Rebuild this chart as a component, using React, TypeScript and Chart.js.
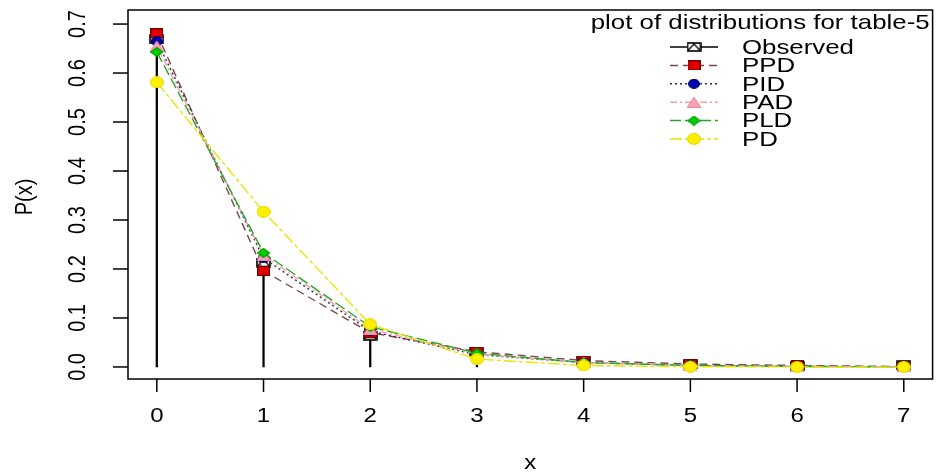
import { useEffect, useRef } from "react";
import { Chart, registerables } from "chart.js";

Chart.register(...registerables);

// ---------- data ----------
const xValues = [0, 1, 2, 3, 4, 5, 6, 7];
const observed = [0.669, 0.213, 0.064, 0.03, 0.012, 0.006, 0.002, 0.004];
const ppd = [0.681, 0.196, 0.07, 0.031, 0.013, 0.006, 0.003, 0.001];
const pid = [0.665, 0.222, 0.073, 0.025, 0.009, 0.003, 0.001, 0.0005];
const pad = [0.655, 0.228, 0.077, 0.026, 0.009, 0.003, 0.001, 0.0003];
const pld = [0.643, 0.233, 0.082, 0.028, 0.009, 0.003, 0.001, 0.0003];
const pdv = [0.581, 0.317, 0.087, 0.016, 0.003, 0.0005, 0.0, 0.0];

const seriesLabels = ["Observed", "PPD", "PID", "PAD", "PLD", "PD"];
const xTickValues = [0, 1, 2, 3, 4, 5, 6, 7];
const xTickLabels = ["0", "1", "2", "3", "4", "5", "6", "7"];
const yTickValues = [0, 0.1, 0.2, 0.3, 0.4, 0.5, 0.6, 0.7];
const yTickLabels = ["0.0", "0.1", "0.2", "0.3", "0.4", "0.5", "0.6", "0.7"];
const legendTitle = "plot of distributions for table-5";
const xTitle = "x";
const yTitle = "P(x)";

const FONT = '"Liberation Sans", Arial, sans-serif';
const SX = 1.2; // horizontal stretch of the reference text

function toPoints(vals: number[]) {
  return xValues.map((x, i) => ({ x, y: vals[i] }));
}

function marker(kind: string, fill: string, stroke: string, w: number, h: number) {
  const c = document.createElement("canvas");
  c.width = w;
  c.height = h;
  const g = c.getContext("2d")!;
  g.fillStyle = fill;
  g.strokeStyle = stroke;
  g.lineWidth = 1.2;
  if (kind === "obs") {
    g.fillStyle = "#ffffff";
    g.fillRect(1, 1, w - 2, h - 2);
    g.lineWidth = 1.6;
    g.strokeRect(1, 1, w - 2, h - 2);
    g.lineWidth = 1.2;
    g.beginPath();
    g.moveTo(2, h - 2);
    g.lineTo(w / 2, 2);
    g.lineTo(w - 2, h - 2);
    g.stroke();
  } else if (kind === "rect") {
    g.fillRect(0.5, 0.5, w - 1, h - 1);
    g.strokeRect(0.5, 0.5, w - 1, h - 1);
  } else if (kind === "circle") {
    g.beginPath();
    g.ellipse(w / 2, h / 2, w / 2 - 0.6, h / 2 - 0.6, 0, 0, Math.PI * 2);
    g.fill();
    g.stroke();
  } else if (kind === "tri") {
    g.beginPath();
    g.moveTo(w / 2, 0.5);
    g.lineTo(w - 0.5, h - 0.5);
    g.lineTo(0.5, h - 0.5);
    g.closePath();
    g.fill();
    g.stroke();
  } else if (kind === "diamond") {
    g.beginPath();
    g.moveTo(w / 2, 0.5);
    g.lineTo(w - 0.5, h / 2);
    g.lineTo(w / 2, h - 0.5);
    g.lineTo(0.5, h / 2);
    g.closePath();
    g.fill();
    g.stroke();
  }
  return c;
}

function stext(
  ctx: CanvasRenderingContext2D,
  s: string,
  x: number,
  y: number,
  align: CanvasTextAlign,
  sx: number
) {
  ctx.save();
  ctx.translate(x, y);
  ctx.scale(sx, 1);
  ctx.textAlign = align;
  ctx.textBaseline = "middle";
  ctx.fillText(s, 0, 0);
  ctx.restore();
}

const rAxesPlugin = {
  id: "rAxes",
  afterDraw(chart: any) {
    const ctx: CanvasRenderingContext2D = chart.ctx;
    const { left, right, top, bottom } = chart.chartArea;
    const xs = chart.scales.x;
    const ys = chart.scales.y;
    ctx.save();
    ctx.strokeStyle = "#000";
    ctx.fillStyle = "#000";
    ctx.lineWidth = 1.5;
    ctx.setLineDash([]);
    // box
    ctx.strokeRect(left, top, right - left, bottom - top);
    // x ticks
    ctx.font = `20px ${FONT}`;
    xTickValues.forEach((v, i) => {
      const px = xs.getPixelForValue(v);
      ctx.beginPath();
      ctx.moveTo(px, bottom);
      ctx.lineTo(px, bottom + 13);
      ctx.stroke();
      stext(ctx, xTickLabels[i], px, bottom + 37, "center", SX);
    });
    // y ticks
    yTickValues.forEach((v, i) => {
      const py = ys.getPixelForValue(v);
      ctx.beginPath();
      ctx.moveTo(left, py);
      ctx.lineTo(left - 15, py);
      ctx.stroke();
      ctx.save();
      ctx.translate(left - 50, py);
      ctx.scale(SX, 1);
      ctx.rotate(-Math.PI / 2);
      ctx.textAlign = "center";
      ctx.textBaseline = "middle";
      ctx.fillText(yTickLabels[i], 0, 0);
      ctx.restore();
    });
    // axis titles
    stext(ctx, xTitle, (left + right) / 2, bottom + 84, "center", SX);
    ctx.save();
    ctx.translate(25, 197);
    ctx.scale(SX, 1);
    ctx.rotate(-Math.PI / 2);
    ctx.textAlign = "center";
    ctx.textBaseline = "middle";
    ctx.fillText(yTitle, 0, 0);
    ctx.restore();

    // legend
    ctx.font = `21px ${FONT}`;
    stext(ctx, legendTitle, right - 3, top + 13, "right", 1.23);
    const lineX0 = 670;
    const lineX1 = 718;
    const textX = 742;
    const rowY0 = top + 37;
    const rowH = 18.4;
    const lineSets = chart.data.datasets.filter((d: any) => d.type === "line");
    lineSets.forEach((d: any, i: number) => {
      const y = rowY0 + i * rowH;
      ctx.save();
      ctx.strokeStyle = d.borderColor;
      ctx.lineWidth = 1.5;
      ctx.setLineDash(d.borderDash || []);
      ctx.beginPath();
      ctx.moveTo(lineX0, y);
      ctx.lineTo(lineX1, y);
      ctx.stroke();
      ctx.restore();
      const img = d.pointStyle as HTMLCanvasElement;
      ctx.drawImage(img, (lineX0 + lineX1) / 2 - img.width / 2, y - img.height / 2);
      ctx.fillStyle = "#000";
      stext(ctx, d.label, textX, y + 1, "left", 1.23);
    });
    ctx.restore();
  },
};

export default function App() {
  const ref = useRef<HTMLCanvasElement | null>(null);
  useEffect(() => {
    if (!ref.current) return;
    const mObs = marker("obs", "#fff", "#000", 15, 10);
    const mPPD = marker("rect", "#e00000", "#7a0000", 13, 10);
    const mPID = marker("circle", "#0000b4", "#00006a", 12, 10);
    const mPAD = marker("tri", "#f4a6b4", "#f08a9c", 14, 11);
    const mPLD = marker("diamond", "#00d000", "#00a000", 13, 10);
    const mPD = marker("circle", "#fff000", "#e8dc00", 14, 12);

    const lineDs = (
      label: string,
      vals: number[],
      color: string,
      dash: number[],
      pt: HTMLCanvasElement,
      order: number,
      showLine = true
    ) => ({
      type: "line" as const,
      label,
      data: toPoints(vals),
      borderColor: color,
      backgroundColor: color,
      borderWidth: 1.4,
      borderDash: dash,
      pointStyle: pt,
      pointRadius: 6,
      showLine,
      tension: 0,
      order,
    });

    const chart = new Chart(ref.current, {
      type: "line",
      data: {
        datasets: [
          {
            type: "bar" as const,
            label: "obs-h",
            data: toPoints(observed),
            backgroundColor: "#000",
            barThickness: 1.6,
            order: 7,
          } as any,
          lineDs(seriesLabels[0], observed, "#000000", [], mObs, 6, false),
          lineDs(seriesLabels[1], ppd, "#7e4848", [8, 5], mPPD, 5),
          lineDs(seriesLabels[2], pid, "#30304a", [2, 3], mPID, 4),
          lineDs(seriesLabels[3], pad, "#f4a0b0", [7, 3, 2, 3], mPAD, 3),
          lineDs(seriesLabels[4], pld, "#2aa52a", [11, 4], mPLD, 2),
          lineDs(seriesLabels[5], pdv, "#e6e600", [12, 3, 4, 3], mPD, 1),
        ] as any,
      },
      options: {
        responsive: false,
        animation: false,
        events: [],
        layout: { padding: { left: 128, top: 10, right: 4, bottom: 96 } },
        plugins: { legend: { display: false }, tooltip: { enabled: false } },
        scales: {
          x: {
            type: "linear",
            min: -0.27,
            max: 7.27,
            offset: false,
            display: false,
          },
          y: {
            type: "linear",
            min: -0.0246,
            max: 0.7287,
            display: false,
          },
        },
      },
      plugins: [rAxesPlugin],
    });
    return () => chart.destroy();
  }, []);

  return (
    <div style={{ position: "fixed", left: 0, top: 0, width: 940, height: 475, background: "#fff" }}>
      <canvas ref={ref} width={940} height={475} style={{ width: 940, height: 475 }} />
    </div>
  );
}
